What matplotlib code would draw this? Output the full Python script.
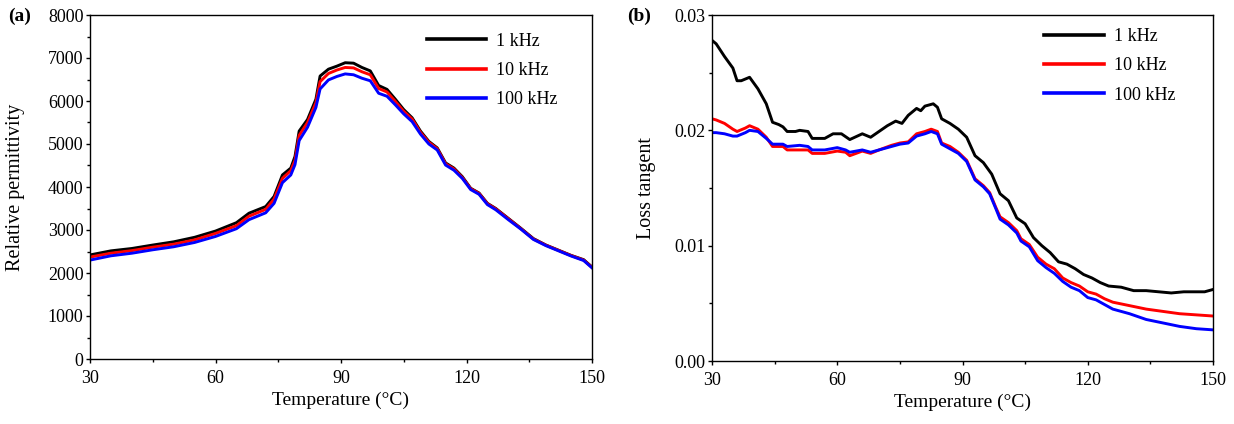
import matplotlib
matplotlib.use("Agg")
import matplotlib.pyplot as plt
from matplotlib.ticker import MultipleLocator

plt.rcParams['font.family'] = ['Liberation Serif', 'DejaVu Serif', 'DejaVu Sans']

# ---------------- Data: panel (a) relative permittivity ----------------
temp_a = [30, 35, 40, 45, 50, 55, 60, 65, 68, 72, 74, 76, 78, 79, 80, 82, 84, 85, 87, 89,
          91, 93, 95, 97, 99, 101, 103, 105, 107, 109, 111, 113, 115, 117, 119, 121, 123,
          125, 127, 130, 133, 136, 139, 142, 145, 148, 150]
perm_1k = [2420, 2515, 2570, 2650, 2725, 2830, 2975, 3170, 3390, 3545, 3780, 4280, 4440,
           4710, 5300, 5570, 6040, 6580, 6740, 6810, 6890, 6880, 6780, 6700, 6360, 6270,
           6040, 5800, 5610, 5300, 5060, 4910, 4560, 4440, 4240, 3970, 3860, 3620, 3500,
           3270, 3040, 2800, 2650, 2530, 2410, 2310, 2140]
perm_10k = [2370, 2460, 2520, 2600, 2670, 2770, 2920, 3100, 3320, 3480, 3720, 4200, 4380,
            4620, 5200, 5500, 5960, 6450, 6640, 6720, 6780, 6770, 6680, 6610, 6290, 6210,
            5990, 5760, 5580, 5270, 5040, 4890, 4540, 4420, 4220, 3960, 3850, 3610, 3490,
            3260, 3030, 2790, 2645, 2525, 2405, 2300, 2130]
perm_100k = [2300, 2400, 2460, 2540, 2610, 2710, 2850, 3030, 3240, 3400, 3620, 4100, 4280,
             4520, 5080, 5390, 5850, 6280, 6490, 6570, 6630, 6610, 6530, 6470, 6180, 6110,
             5910, 5700, 5520, 5230, 5000, 4860, 4510, 4390, 4200, 3940, 3830, 3590, 3470,
             3240, 3020, 2780, 2635, 2515, 2395, 2290, 2120]

# ---------------- Data: panel (b) loss tangent ----------------
temp_b1 = [30, 31, 33, 35, 36, 37, 39, 41, 43, 44.5, 46, 47, 48, 50, 51, 53, 54, 57, 59, 61,
           63, 66, 68, 70, 72, 74, 75.5, 77, 79, 80, 81, 83, 84, 85, 87, 89, 91, 93, 95, 97,
           99, 101, 103, 105, 107, 109, 111, 113, 115, 117, 119, 121, 123, 125, 128, 131,
           134, 137, 140, 143, 146, 148, 150]
tan_1k = [0.0278, 0.0275, 0.0264, 0.0254, 0.0243, 0.0243, 0.0246, 0.0236, 0.0223, 0.0207,
          0.0205, 0.0203, 0.0199, 0.0199, 0.0200, 0.0199, 0.0193, 0.0193, 0.0197, 0.0197,
          0.0192, 0.0197, 0.0194, 0.0199, 0.0204, 0.0208, 0.0206, 0.0213, 0.0219, 0.0217,
          0.0221, 0.0223, 0.0220, 0.0210, 0.0206, 0.0201, 0.0194, 0.0178, 0.0172, 0.0162,
          0.0145, 0.0139, 0.0124, 0.0119, 0.0107, 0.0100, 0.0094, 0.0086, 0.0084, 0.0080,
          0.0075, 0.0072, 0.0068, 0.0065, 0.0064, 0.0061, 0.0061, 0.0060, 0.0059, 0.0060,
          0.0060, 0.0060, 0.0062]

temp_b2 = [30, 31, 33, 35, 36, 38, 39, 41, 43, 44.5, 47, 48, 51, 53, 54, 57, 60, 62, 63, 66,
           68, 70, 73, 75, 77, 79, 81, 82.5, 84, 85, 87, 89, 91, 93, 95, 96.5, 98, 99, 101,
           103, 104, 106, 108, 110, 112, 114, 116, 118, 120, 122, 124, 126, 130, 134, 138,
           142, 146, 150]
tan_10k = [0.0210, 0.0209, 0.0206, 0.0201, 0.0199, 0.0202, 0.0204, 0.0201, 0.0194, 0.0186,
           0.0186, 0.0183, 0.0183, 0.0183, 0.0180, 0.0180, 0.0182, 0.0181, 0.0178, 0.0182,
           0.0180, 0.0183, 0.0187, 0.0189, 0.0190, 0.0197, 0.0199, 0.0201, 0.0199, 0.0189,
           0.0186, 0.0181, 0.0174, 0.0158, 0.0152, 0.0146, 0.0133, 0.0125, 0.0120, 0.0113,
           0.0106, 0.0101, 0.0090, 0.0084, 0.0080, 0.0072, 0.0068, 0.0065, 0.0060, 0.0058,
           0.0054, 0.0051, 0.0048, 0.0045, 0.0043, 0.0041, 0.0040, 0.0039]
tan_100k = [0.0198, 0.0198, 0.0197, 0.0195, 0.0195, 0.0198, 0.0200, 0.0199, 0.0193, 0.0188,
            0.0188, 0.0186, 0.0187, 0.0186, 0.0183, 0.0183, 0.0185, 0.0183, 0.0181, 0.0183,
            0.0181, 0.0183, 0.0186, 0.0188, 0.0189, 0.0195, 0.0197, 0.0199, 0.0197, 0.0188,
            0.0184, 0.0180, 0.0173, 0.0157, 0.0151, 0.0145, 0.0132, 0.0123, 0.0118, 0.0111,
            0.0104, 0.0099, 0.0087, 0.0081, 0.0076, 0.0069, 0.0064, 0.0061, 0.0055, 0.0053,
            0.0049, 0.0045, 0.0041, 0.0036, 0.0033, 0.0030, 0.0028, 0.0027]

labels = ['1 kHz', '10 kHz', '100 kHz']
colors = ['#000000', '#ff0000', '#0000ff']
ytick_b = [0.0, 0.01, 0.02, 0.03]
ytick_b_labels = ['0.00', '0.01', '0.02', '0.03']

W, H = 1234, 424
fig = plt.figure(figsize=(W / 100, H / 100), dpi=100)

def px_axes(l, r, t, b):
    return fig.add_axes([l / W, 1 - b / H, (r - l) / W, (b - t) / H])

ax1 = px_axes(90, 592, 15, 359)
ax2 = px_axes(712, 1213, 15, 361)

lw = 2.1
for y, c, lab in zip([perm_1k, perm_10k, perm_100k], colors, labels):
    ax1.plot(temp_a, y, color=c, lw=lw, label=lab)

ax2.plot(temp_b1, tan_1k, color=colors[0], lw=lw, label=labels[0])
ax2.plot(temp_b2, tan_10k, color=colors[1], lw=lw, label=labels[1])
ax2.plot(temp_b2, tan_100k, color=colors[2], lw=lw, label=labels[2])

tick_fs = 13
for ax in (ax1, ax2):
    ax.set_xlim(30, 150)
    ax.xaxis.set_major_locator(MultipleLocator(30))
    ax.xaxis.set_minor_locator(MultipleLocator(15))
    ax.tick_params(which='both', direction='out', top=False, right=False,
                   labelsize=tick_fs, width=1)
    ax.tick_params(which='major', length=3.2)
    ax.tick_params(which='minor', length=2.4)
    ax.tick_params(axis='x', which='major', pad=5)
    ax.tick_params(axis='y', which='major', pad=1.5)
    for s in ax.spines.values():
        s.set_linewidth(1.0)
    ax.set_xlabel('Temperature (°C)', fontsize=14)
    ax.xaxis.set_label_coords(0.5, -0.095)

ax1.set_ylim(0, 8000)
ax1.yaxis.set_major_locator(MultipleLocator(1000))
ax1.yaxis.set_minor_locator(MultipleLocator(500))
ax1.set_ylabel('Relative permittivity', fontsize=14.5)
ax1.yaxis.set_label_coords(-0.13, 0.5)

ax2.set_ylim(0, 0.03)
ax2.set_yticks(ytick_b)
ax2.set_yticklabels(ytick_b_labels)
ax2.yaxis.set_minor_locator(MultipleLocator(0.005))
ax2.set_ylabel('Loss tangent', fontsize=14.5)
ax2.yaxis.set_label_coords(-0.112, 0.5)

leg_kw = dict(frameon=False, fontsize=13, handlelength=3.3, handletextpad=0.55,
              labelspacing=0.68, borderpad=0, borderaxespad=0, loc='upper left')
leg1 = ax1.legend(bbox_to_anchor=(0.671, 0.949), **leg_kw)
leg2 = ax2.legend(bbox_to_anchor=(0.663, 0.962), **leg_kw)
for leg in (leg1, leg2):
    for ln in leg.get_lines():
        ln.set_linewidth(2.6)

fig.text(8 / W, 1 - 16 / H, '(a)', fontsize=14, fontweight='bold', va='center', ha='left')
fig.text(627 / W, 1 - 16 / H, '(b)', fontsize=14, fontweight='bold', va='center', ha='left')

fig.savefig('out.png', dpi=100)
